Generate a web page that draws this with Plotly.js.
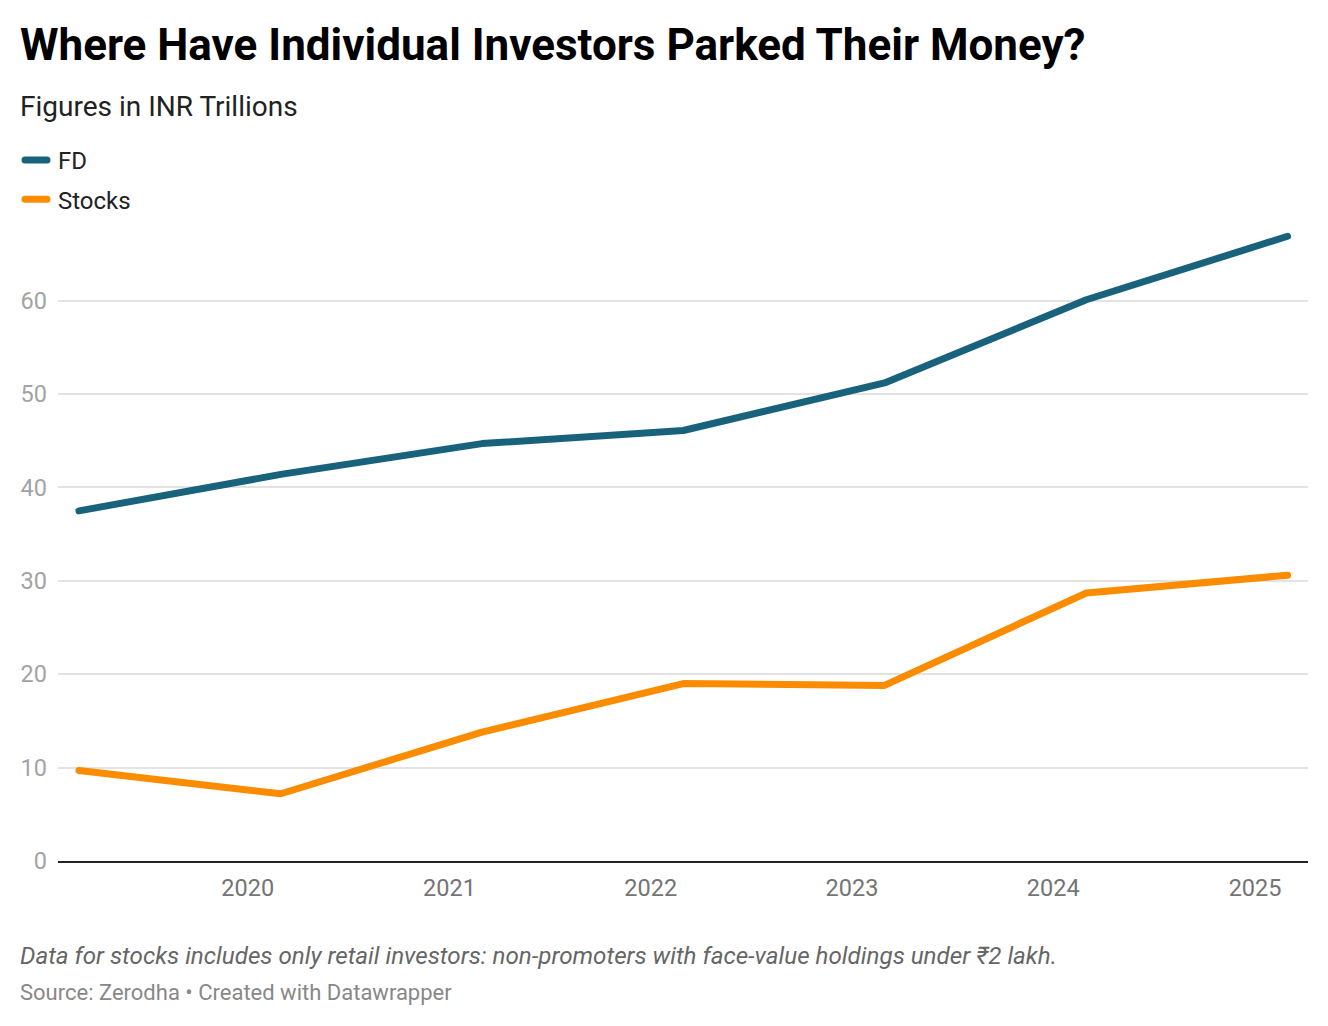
<!DOCTYPE html>
<html>
<head>
<meta charset="utf-8">
<script src="https://cdn.plot.ly/plotly-3.0.1.min.js"></script>
<style>html,body{margin:0;padding:0;background:#fff;}#chart{width:1328px;height:1026px;}</style>
</head>
<body>
<div id="chart"></div>
<script>
const dates = ['2019-03-01','2020-03-01','2021-03-01','2022-03-01','2023-03-01','2024-03-01','2025-03-01'];
const fdValues = [37.5, 41.4, 44.7, 46.1, 51.2, 60.1, 66.9];
const stockValues = [9.7, 7.2, 13.8, 19.0, 18.8, 28.7, 30.6];
const seriesNames = ['FD', 'Stocks'];
const xTickVals = ['2020-01-01','2021-01-01','2022-01-01','2023-01-01','2024-01-01','2025-01-01'];
const xTickText = ['2020','2021','2022','2023','2024','2025'];

const FONT = 'Roboto, sans-serif';
const traces = [
  {x: dates, y: fdValues, name: seriesNames[0], type: 'scatter', mode: 'lines', legendgroup: 'a',
   line: {color: '#18627c', width: 7, shape: 'linear'}, hoverinfo: 'skip'},
  {x: dates, y: stockValues, name: seriesNames[1], type: 'scatter', mode: 'lines', legendgroup: 'b',
   line: {color: '#fb8c00', width: 7, shape: 'linear'}, hoverinfo: 'skip'}
];

const layout = {
  width: 1328, height: 1026,
  paper_bgcolor: '#fff', plot_bgcolor: '#fff',
  margin: {l: 58, r: 20, t: 212, b: 165, pad: 0, autoexpand: false},
  font: {family: FONT, color: '#222'},
  title: {text: '<b>Where Have Individual Investors Parked Their Money?</b>',
    font: {family: FONT, size: 44, color: '#000'},
    xref: 'container', yref: 'container', x: 20/1328, xanchor: 'left', y: 1 - 45/1026, yanchor: 'middle'},
  showlegend: true,
  legend: {xref: 'container', yref: 'container', x: 18/1328, xanchor: 'left', y: 1 - 138/1026, yanchor: 'top',
    font: {family: FONT, size: 24, color: '#222'}, bgcolor: 'rgba(0,0,0,0)', borderwidth: 0,
    tracegroupgap: 5, traceorder: 'grouped', itemwidth: 30},
  xaxis: {type: 'date', range: ['2019-01-22', '2025-04-07'], tickmode: 'array', tickvals: xTickVals, ticktext: xTickText,
    showgrid: false, zeroline: false, showline: true, linecolor: '#222', linewidth: 2, ticks: '', automargin: false,
    tickfont: {family: FONT, size: 23.5, color: '#747474'}, ticklabelstandoff: 5, fixedrange: true},
  yaxis: {range: [0, 69.5], dtick: 10, tick0: 0, showgrid: true, gridcolor: '#e3e3e3', gridwidth: 2, automargin: false,
    zeroline: false, showline: false, ticks: '', tickfont: {family: FONT, size: 23.5, color: '#a3a3a3'},
    ticklabelstandoff: 10, fixedrange: true},
  annotations: [
    {text: 'Figures in INR Trillions', xref: 'paper', yref: 'paper', x: (18-58)/1250, y: (861-107)/649, xanchor: 'left', yanchor: 'middle',
     showarrow: false, font: {family: FONT, size: 28, color: '#222'}},
    {text: '<i>Data for stocks includes only retail investors: non-promoters with face-value holdings under ₹2 lakh.</i>', xref: 'paper', yref: 'paper',
     x: (18-58)/1250, y: (861-956)/649, xanchor: 'left', yanchor: 'middle', showarrow: false, font: {family: FONT, size: 24.2, color: '#666'}},
    {text: 'Source: Zerodha • Created with Datawrapper', xref: 'paper', yref: 'paper',
     x: (18-58)/1250, y: (861-992)/649, xanchor: 'left', yanchor: 'middle', showarrow: false, font: {family: FONT, size: 22, color: '#888'}}
  ]
};

Plotly.newPlot('chart', traces, layout, {displayModeBar: false, staticPlot: true}).then(function(){
  document.querySelectorAll('.js-line').forEach(function(p){ p.style.strokeLinecap = 'round'; p.style.strokeLinejoin = 'round'; });
  document.querySelectorAll('.legendlines path').forEach(function(p){ p.setAttribute('d', 'M7,0h22'); p.style.strokeLinecap = 'round'; });
});
</script>
</body>
</html>
